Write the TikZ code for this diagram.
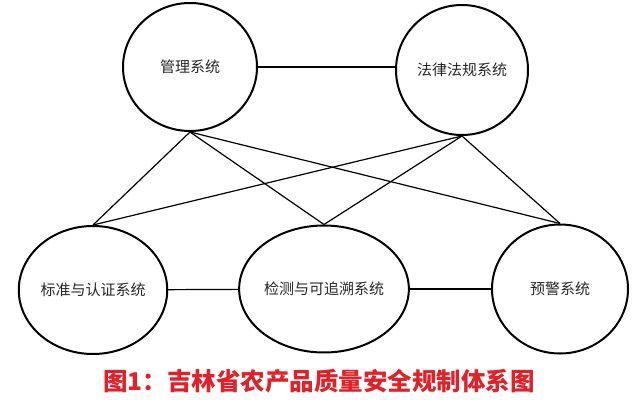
\documentclass[tikz,border=0pt]{standalone}
\usepackage{fontspec}
\usepackage{xcolor}
\usepackage{tikz}
\usetikzlibrary{shapes.geometric}
\newfontfamily\cjk{Noto Sans CJK SC}
\definecolor{capred}{RGB}{226,32,40}

\begin{document}
\begin{tikzpicture}[
  x=1pt, y=-1pt,
  font=\cjk\fontsize{15}{18}\selectfont,
  sys/.style={ellipse, draw, line width=2pt, inner sep=0pt, minimum width=134pt, minimum height=128pt, align=center, text=black!85},
  link/.style={line width=1.2pt},
  capt/.style={font=\cjk\bfseries\fontsize{24.5}{28}\selectfont, text=capred},
]
\useasboundingbox (0,0) rectangle (640,404);

% upper row
\node[sys] (mgmt) at (190,67) {管理系统};
\node[sys, minimum width=132pt, minimum height=130pt] (law) at (462,70) {法律法规系统};

% lower row
\node[sys, minimum width=140pt] (std) at (93,290) {标准与认证系统};
\node[sys, minimum width=135pt, minimum height=127pt] (test) at (324,289) {检测与可追溯系统};
\node[sys, minimum width=136pt, minimum height=129pt] (warn) at (560,289) {预警系统};

\draw[link] (mgmt.east) -- (mgmt.east -| law.west);
\draw[link] (std) -- (test);
\draw[link] (test) -- (warn);

\draw[link] (mgmt.south) -- (std.north);
\draw[link] (mgmt.south) -- (test.north);
\draw[link] (mgmt.south) -- (warn.north);
\draw[link] (law.south) -- (std.north);
\draw[link] (law.south) -- (test.north);
\draw[link] (law.south) -- (warn.north);

\node[capt] (title) at (319,381) {图1：吉林省农产品质量安全规制体系图};
\end{tikzpicture}
\end{document}
